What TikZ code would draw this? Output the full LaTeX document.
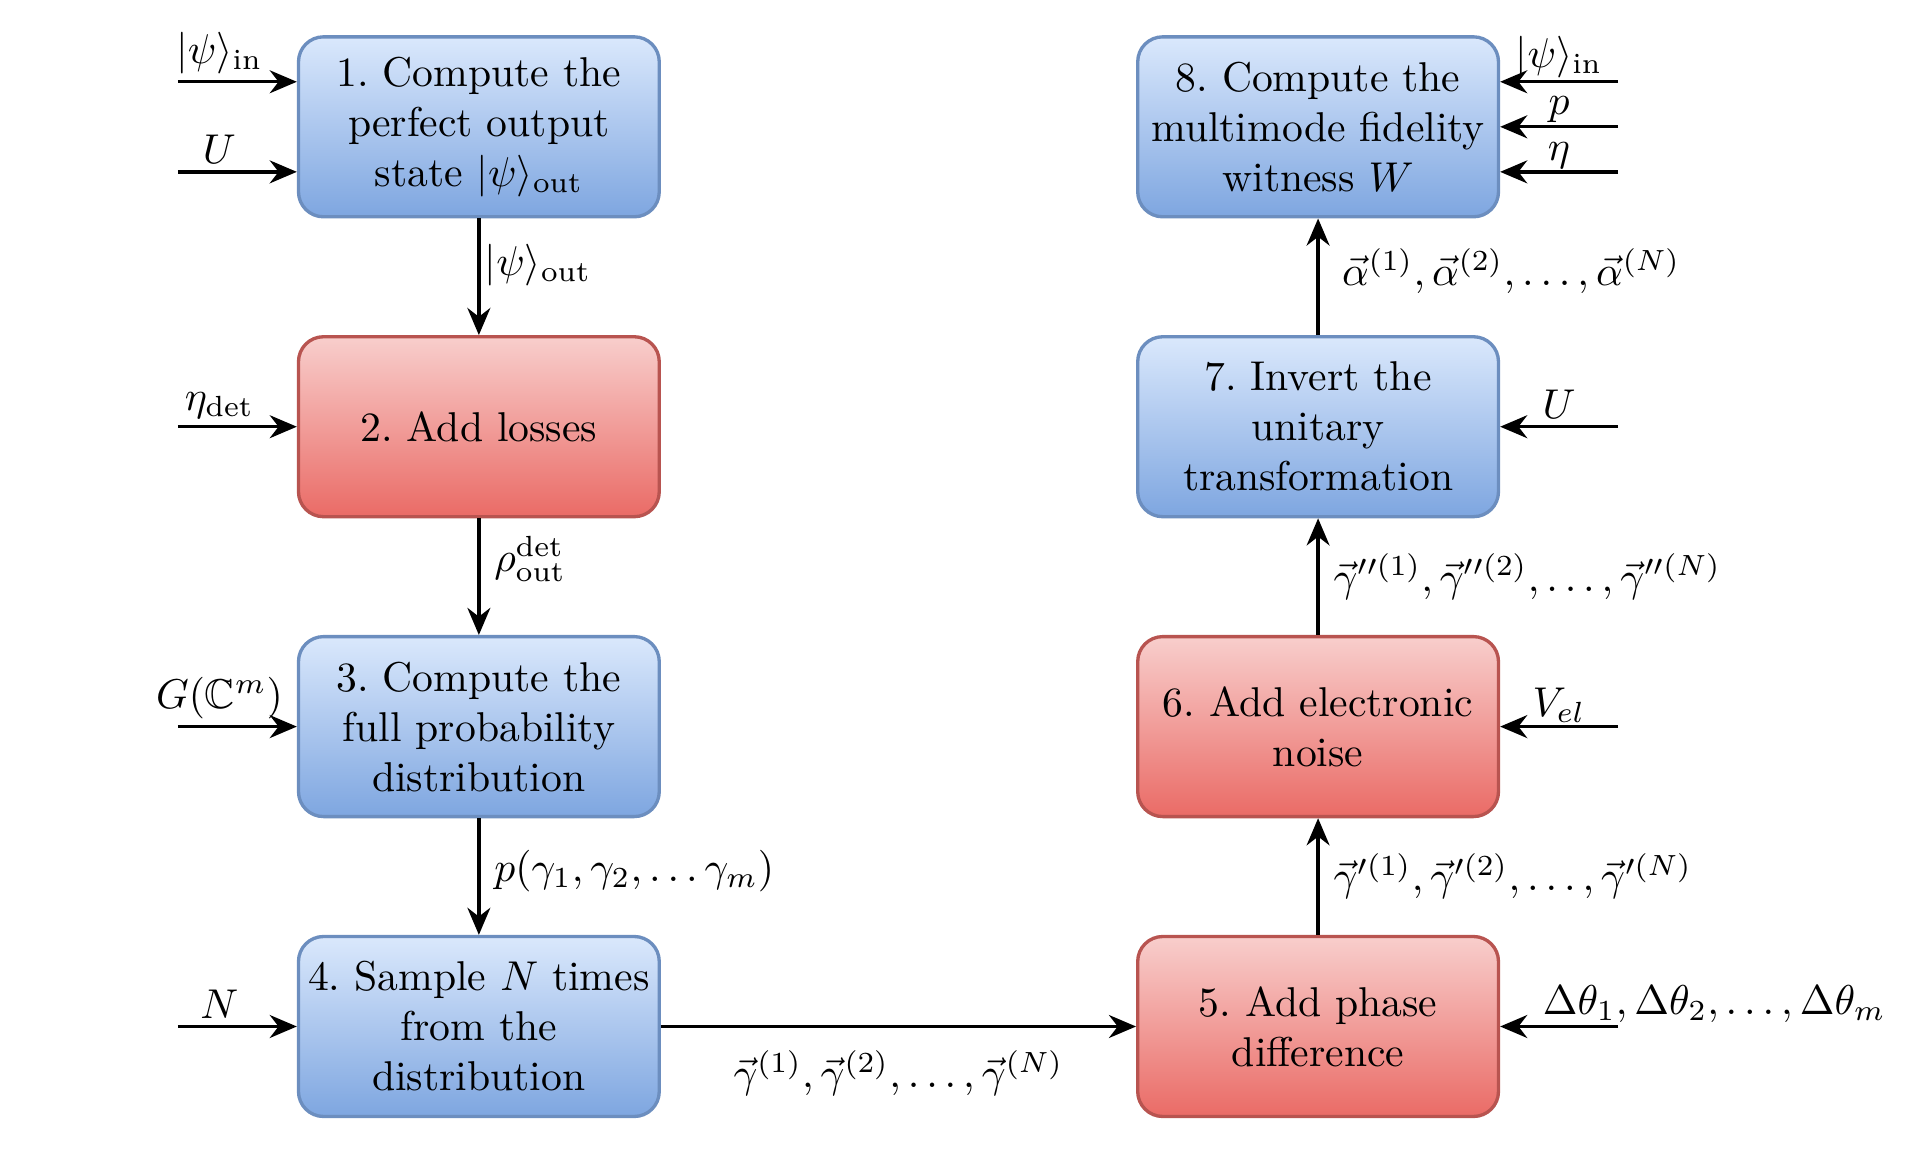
\documentclass[tikz,border=0pt]{standalone}
\usepackage{amsmath,amssymb}
\usetikzlibrary{arrows.meta}
\definecolor{blueTop}{HTML}{DAE8FC}
\definecolor{blueBot}{HTML}{7EA6E0}
\definecolor{blueLine}{HTML}{6C8EBF}
\definecolor{redTop}{HTML}{F8CECC}
\definecolor{redBot}{HTML}{EA6B66}
\definecolor{redLine}{HTML}{B85450}
\frenchspacing
\begin{document}
\begin{tikzpicture}[
	blk/.style={draw, rounded corners=6pt, line width=0.8pt, minimum width=86.6pt, minimum height=43.2pt, text width=84pt, inner xsep=1.3pt, align=center},
	bluebox/.style={blk, draw=blueLine, top color=blueTop, bottom color=blueBot},
	redbox/.style={blk, draw=redLine, top color=redTop, bottom color=redBot},
	flow/.style={-{Stealth[length=6.5pt,width=5.5pt]}, thick},
	inlbl/.style={above, inner ysep=1.5pt}]
	\useasboundingbox (0,0) rectangle (16.24,-9.91);
	% left column
	\path(4.04,-1.07)  node[bluebox](B1) {1. Compute the\\perfect output\\state $|\psi\rangle_{\text{out}}$};
	\path(4.04,-3.60)  node[redbox](B2)  {2. Add losses};
	\path(4.04,-6.13)  node[bluebox](B3) {3. Compute the\\full probability\\distribution};
	\path(4.04,-8.66)  node[bluebox](B4) {4. Sample $N$ times\\from the\\distribution};
	% right column
	\path(11.12,-8.66) node[redbox](B5)  {5. Add phase\\difference};
	\path(11.12,-6.13) node[redbox](B6)  {6. Add electronic\\noise};
	\path(11.12,-3.60) node[bluebox](B7) {7. Invert the\\unitary\\transformation};
	\path(11.12,-1.07) node[bluebox](B8) {8. Compute the\\multimode fidelity\\witness $W$};
	% free ends of the inputs
	\coordinate (iPsi) at (1.5,-0.69);
	\coordinate (iU)   at (1.5,-1.45);
	\coordinate (iEta) at (1.5,-3.60);
	\coordinate (iG)   at (1.5,-6.13);
	\coordinate (iN)   at (1.5,-8.66);
	\coordinate (oPsi)   at (13.65,-0.69);
	\coordinate (oP)     at (13.65,-1.07);
	\coordinate (oEta)   at (13.65,-1.45);
	\coordinate (oU)     at (13.65,-3.60);
	\coordinate (oV)     at (13.65,-6.13);
	\coordinate (oTheta) at (13.65,-8.66);
	% inputs
	\draw[flow] (iPsi) -- node[inlbl, pos=0.35]{$|\psi\rangle_{\text{in}}$} (iPsi -| B1.west);
	\draw[flow] (iU)   -- node[inlbl, pos=0.35]{$U$} (iU -| B1.west);
	\draw[flow] (iEta) -- node[inlbl, pos=0.35]{$\eta_{\text{det}}$} (B2);
	\draw[flow] (iG)   -- node[inlbl, pos=0.35]{$G(\mathbb{C}^m)$} (B3);
	\draw[flow] (iN)   -- node[inlbl, pos=0.35]{$N$} (B4);
	\draw[flow] (oPsi) -- node[inlbl, inner ysep=0.5pt]{$|\psi\rangle_{\text{in}}$} (oPsi -| B8.east);
	\draw[flow] (oP)   -- node[inlbl, inner ysep=0.5pt]{$p$} (oP -| B8.east);
	\draw[flow] (oEta) -- node[inlbl, inner ysep=0.5pt]{$\eta$} (oEta -| B8.east);
	\draw[flow] (oU)   -- node[inlbl]{$U$} (B7);
	\draw[flow] (oV)   -- node[inlbl, inner ysep=0.5pt]{$V_{el}$} (B6);
	\draw[flow] (oTheta) -- node[pos=0.77, anchor=south west, inner ysep=0.5pt]{$\Delta\theta_1,\Delta\theta_2,\dots,\Delta\theta_m$} (B5);
	% main flow
	\draw[flow] (B1) -- node[right, inner xsep=1pt, pos=0.4]{$|\psi\rangle_{\text{out}}$} (B2);
	\draw[flow] (B2) -- node[right, pos=0.35]{$\rho_{\text{out}}^{\text{det}}$} (B3);
	\draw[flow] (B3) -- node[right, pos=0.45]{$p(\gamma_1,\gamma_2,\dots\gamma_m)$} (B4);
	\draw[flow] (B4) -- node[below, yshift=-2pt]{$\vec{\gamma}^{(1)},\vec{\gamma}^{(2)},\dots,\vec{\gamma}^{(N)}$} (B5);
	\draw[flow] (B5) -- node[right, pos=0.5]{$\vec{\gamma}'^{(1)},\vec{\gamma}'^{(2)},\dots,\vec{\gamma}'^{(N)}$} (B6);
	\draw[flow] (B6) -- node[right, pos=0.5]{$\vec{\gamma}''^{(1)},\vec{\gamma}''^{(2)},\dots,\vec{\gamma}''^{(N)}$} (B7);
	\draw[flow] (B7) -- node[right, pos=0.55, xshift=2pt]{$\vec{\alpha}^{(1)},\vec{\alpha}^{(2)},\dots,\vec{\alpha}^{(N)}$} (B8);
\end{tikzpicture}
\end{document}
